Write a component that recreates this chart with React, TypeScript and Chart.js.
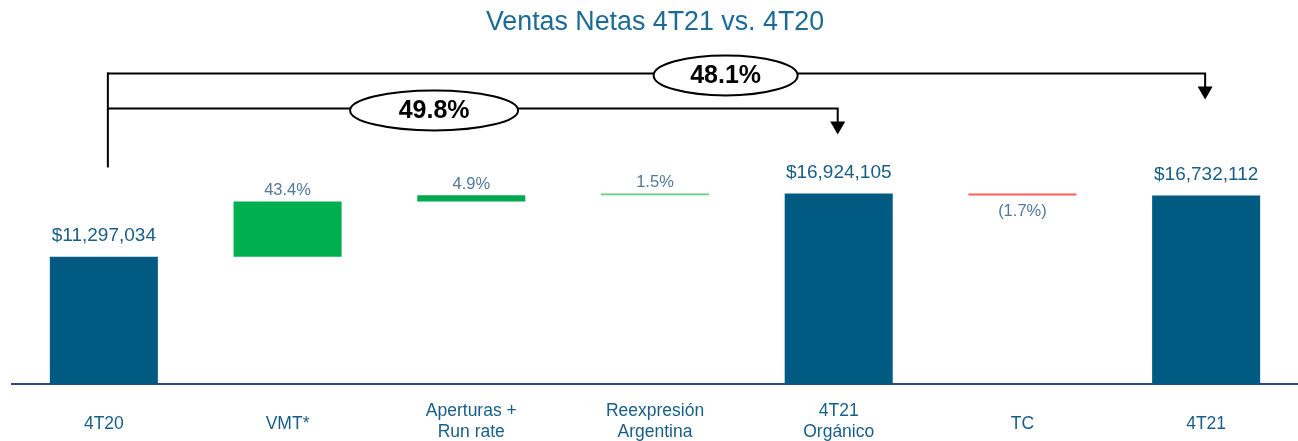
import React, { useEffect, useRef } from "react";
import { Chart, registerables } from "chart.js";

Chart.register(...registerables);

const FONT = "'Liberation Sans', Arial, Helvetica, sans-serif";

const categories: (string | string[])[] = [
  "4T20",
  "VMT*",
  ["Aperturas +", "Run rate"],
  ["Reexpresión", "Argentina"],
  ["4T21", "Orgánico"],
  "TC",
  "4T21",
];

// Totals (null where the bar is a change)
const totals: (number | null)[] = [11297034, null, null, null, 16924105, null, 16732112];
// Changes, as % of the 4T20 base (null where the bar is a total)
const changePct: (number | null)[] = [null, 43.4, 4.9, 1.5, null, -1.7, null];

// Growth brackets: from category index to category index, with label
const bracketFrom = [0, 0];
const bracketTo = [4, 6];
const bracketLabels = ["49.8%", "48.1%"];

const barColors = ["#005A82", "#00B050", "#00A84F", "#63CE85", "#005A82", "#FF5B5B", "#005A82"];

const TITLE = "Ventas Netas 4T21 vs. 4T20";

// Build floating ranges for the waterfall
const baseValue = totals[0] as number;
const ranges: [number, number][] = [];
{
  let running = 0;
  for (let i = 0; i < categories.length; i++) {
    const t = totals[i];
    if (t !== null) {
      ranges.push([0, t]);
      running = t;
    } else {
      const delta = (baseValue * (changePct[i] as number)) / 100;
      ranges.push([running, running + delta]);
      running = running + delta;
    }
  }
}

const fmtMoney = (v: number) => "$" + v.toLocaleString("en-US");
const fmtPct = (p: number) => (p < 0 ? `(${Math.abs(p).toFixed(1)}%)` : `${p.toFixed(1)}%`);

const overlayPlugin = {
  id: "overlay",
  afterDatasetsDraw(chart: any) {
    const { ctx, scales } = chart;
    const x = scales.x;
    const y = scales.y;
    const meta = chart.getDatasetMeta(0);
    ctx.save();

    // Value labels
    meta.data.forEach((bar: any, i: number) => {
      const top = Math.min(bar.y, bar.base);
      const bottom = Math.max(bar.y, bar.base);
      ctx.textAlign = "center";
      ctx.textBaseline = "middle";
      const t = totals[i];
      if (t !== null) {
        ctx.font = `19px ${FONT}`;
        ctx.fillStyle = "#175E88";
        ctx.fillText(fmtMoney(t), bar.x, top - 21);
      } else {
        const p = changePct[i] as number;
        ctx.font = `16.5px ${FONT}`;
        ctx.fillStyle = "#52799A";
        if (p >= 0) ctx.fillText(fmtPct(p), bar.x, top - 11);
        else ctx.fillText(fmtPct(p), bar.x, bottom + 16);
      }
    });

    // Category labels
    ctx.font = `17.5px ${FONT}`;
    ctx.fillStyle = "#175E88";
    ctx.textAlign = "center";
    ctx.textBaseline = "middle";
    const axisBottom = chart.chartArea.bottom;
    categories.forEach((c, i) => {
      const cx = x.getPixelForValue(i);
      if (Array.isArray(c)) {
        ctx.fillText(c[0], cx, axisBottom + 27);
        ctx.fillText(c[1], cx, axisBottom + 48);
      } else {
        ctx.fillText(c, cx, axisBottom + 40);
      }
    });

    // Growth brackets
    const maxTotal = Math.max(...(totals.filter((v) => v !== null) as number[]));
    const yTop = y.getPixelForValue(maxTotal);
    const lineYs = [yTop - 85, yTop - 120];
    const tipYs = [yTop - 59, yTop - 94];
    const ellipseFrac = [0.447, 0.563];
    const ellipseRx = [84, 72];
    const x0 = x.getPixelForValue(0) + 4;
    ctx.strokeStyle = "#000";
    ctx.fillStyle = "#000";
    ctx.lineWidth = 2;
    // left vertical
    ctx.beginPath();
    ctx.moveTo(x0, Math.min(...lineYs) - 1);
    ctx.lineTo(x0, yTop - 26);
    ctx.stroke();
    for (let k = 0; k < bracketFrom.length; k++) {
      const xs = x.getPixelForValue(bracketFrom[k]) + 4;
      const xe = x.getPixelForValue(bracketTo[k]) - 1;
      const ly = lineYs[k];
      const tip = tipYs[k];
      ctx.beginPath();
      ctx.moveTo(xs, ly);
      ctx.lineTo(xe, ly);
      ctx.lineTo(xe, tip - 12);
      ctx.stroke();
      ctx.beginPath();
      ctx.moveTo(xe - 7.5, tip - 13);
      ctx.lineTo(xe + 7.5, tip - 13);
      ctx.lineTo(xe, tip);
      ctx.closePath();
      ctx.fill();
      // ellipse
      const ex = xs + ellipseFrac[k] * (xe - xs);
      ctx.beginPath();
      ctx.ellipse(ex, ly + 2, ellipseRx[k], 20, 0, 0, Math.PI * 2);
      ctx.fillStyle = "#fff";
      ctx.fill();
      ctx.stroke();
      ctx.fillStyle = "#000";
      ctx.font = `bold 25px ${FONT}`;
      ctx.textAlign = "center";
      ctx.textBaseline = "middle";
      ctx.fillText(bracketLabels[k], ex, ly + 3);
    }

    ctx.restore();
  },
};

export default function App() {
  const canvasRef = useRef<HTMLCanvasElement | null>(null);

  useEffect(() => {
    if (!canvasRef.current) return;
    const chart = new Chart(canvasRef.current, {
      type: "bar",
      data: {
        labels: categories.map((c) => (Array.isArray(c) ? c.join(" ") : c)),
        datasets: [
          {
            data: ranges as any,
            backgroundColor: barColors,
            borderWidth: 0,
            barPercentage: 0.588,
            categoryPercentage: 1,
          },
        ],
      },
      options: {
        responsive: false,
        animation: false,
        layout: { padding: { left: 12, right: 0, top: 0, bottom: 57 } },
        plugins: {
          legend: { display: false },
          tooltip: { enabled: false },
          title: {
            display: true,
            text: TITLE,
            color: "#1B6B96",
            font: { family: FONT, size: 26.8, weight: "normal" },
            padding: { top: 7, bottom: 7 },
          },
        },
        scales: {
          x: {
            grid: { display: false, drawTicks: false },
            ticks: { display: false },
            border: { display: true, color: "#2E4A7D", width: 2 },
          },
          y: {
            display: false,
            min: 0,
            max: 30000000,
          },
        },
      },
      plugins: [overlayPlugin],
    });
    return () => chart.destroy();
  }, []);

  return (
    <div style={{ position: "absolute", left: 0, top: 0, width: 1298, height: 441, background: "#fff" }}>
      <canvas ref={canvasRef} width={1298} height={441} style={{ display: "block" }} />
    </div>
  );
}
